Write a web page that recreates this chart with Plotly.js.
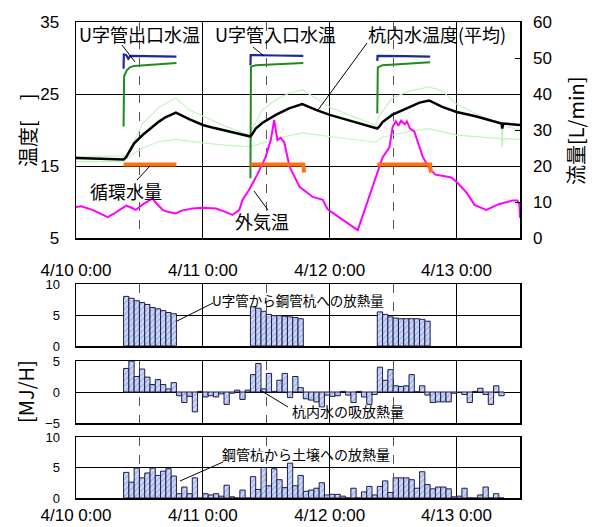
<!DOCTYPE html>
<html><head><meta charset="utf-8">
<script src="https://cdn.plot.ly/plotly-3.0.1.min.js"></script>
<style>html,body{margin:0;padding:0;background:#fff}#chart{width:597px;height:527px}</style>
</head><body><div id="chart"></div>
<script>
// ---- DATA (time in hours from 4/10 0:00) ----
const xTickText = ['4/10 0:00','4/11 0:00','4/12 0:00','4/13 0:00'];

// U字管入口水温 (blue), one list per circulation day
const inletHoursDay = [[9,9.05,9.5,9.9,10.3,13,16,19],[33,33.05,38,43],[57,57.05,62,67]];
const inletTempDay  = [[28.5,30.5,30.4,29.9,30.3,30.25,30.2,30.2],[29.0,30.4,30.35,30.3],[29.6,30.3,30.25,30.2]];
// U字管出口水温 (green)
const outletHoursDay = [[9,9.1,9.6,10.2,11,15,19],[33,33.1,34,38,43],[57,57.1,58,62,67]];
const outletTempDay  = [[20.5,27.5,28.3,28.7,28.9,29.1,29.3],[13.3,28.8,29.0,29.15,29.3],[22.3,28.7,29.0,29.2,29.4]];
// 杭内水温度(平均) (black)
const avgHours = [0,4,9,9.45,11,12.6,14,15.75,17,18.9,21.4,24,26,28.3,30,32.7,33,33.4,34,35.3,37.8,40.3,42.8,45.4,48,52.3,56.7,57,57.4,58,59.8,63,65,66.8,69.3,72,75.6,80.5,80.65,80.8,84];
const avgTemp  = [16.1,16.0,15.9,16.2,18.15,19.3,20.2,21.2,21.8,22.4,21.5,20.7,20.3,19.9,19.6,19.2,19.1,19.5,20.2,21.0,22.1,23.0,23.6,22.8,22.1,21.2,20.3,20.2,20.5,21.1,22.1,23.2,23.8,24.1,23.2,22.5,21.9,20.9,20.2,20.9,20.7];
// pale green (upper)
const upperHours = [0,9,9.5,11,12.6,15.75,18.9,21.4,24,28.3,32.7,33.4,35.3,37.8,40.3,42.8,45.4,48,52.3,56.7,57.3,59.8,63,66.8,69.3,72,75.6,80.5,80.6,80.8,84];
const upperTemp  = [16.3,16.3,16.4,18.4,20.9,23.2,24.4,22.8,21.9,20.5,19.3,20.2,22.8,24.2,25.1,25.6,24.4,23.2,21.9,20.7,21.9,24.4,25.4,26.0,25.4,23.6,22.3,20.8,18.0,20.6,20.0];
// pale green (lower)
const lowerHours = [0,9,9.45,12.6,15.75,18.9,24,28.3,32.7,34,37.8,42.8,48,56.7,57.9,63,66.8,72,80.5,80.6,80.8,84];
const lowerTemp  = [15.6,15.6,16.0,17.5,18.4,18.7,18.2,17.9,17.7,17.9,18.8,19.6,19.1,18.3,19.0,19.8,20.2,19.3,18.8,17.6,18.8,18.7];
// 外気温 (magenta)
const airHours = [0,1,3.1,6,7,8.8,9.5,10.5,11.3,12.5,13.5,14.5,15,16.4,17.5,18.9,20,22,24,26.5,28,29.6,30.9,31.5,32.75,34.3,35.9,36.85,37.5,38.1,38.7,39.4,40.4,42.3,44.8,46.7,47.6,49.9,51.8,53.3,54.2,56.1,58,59.3,59.9,60.5,61,61.5,62.2,62.6,63.2,64,65.6,66.9,68,69.5,71,72,73.9,75.4,77.6,80,82.6,83.5,83.9,84];
const airTemp  = [9.3,9.4,8.9,7.9,8.3,9.1,9.5,9.2,8.9,9.6,10.0,10.5,10.0,8.9,8.6,8.4,8.8,9.1,9.2,9.1,8.7,8.2,8.9,10.3,11.7,13.8,16.3,18.6,21.4,18.6,18.9,18.3,14.9,12.1,10.7,10.3,9.0,7.8,6.8,6.1,8.0,12.1,16.2,17.6,20.4,21.2,20.6,21.3,20.8,21.2,20.2,19.8,16.3,14.6,13.8,13.6,13.4,12.8,11.3,9.6,8.9,9.7,10.2,10.2,9.6,7.8];
// 循環水量 (orange, L/min)
const flowHoursDay = [[9,19],[33,43,43.15],[57,67,67.15]];
const flowRateDay  = [[20.4,20.4],[20.4,20.4,18.2],[20.4,20.4,18.2]];

// U字管から鋼管杭への放熱量 [MJ/H], hourly from 9:00 each day
const heatStartHours = [9,33,57];
const heatUtubeDay1 = [8.0,7.7,7.3,7.0,6.7,6.2,6.0,5.7,5.4,5.2];
const heatUtubeDay2 = [6.3,6.1,5.6,5.1,4.9,4.9,4.8,4.7,4.6,4.4];
const heatUtubeDay3 = [5.5,5.1,4.7,4.5,4.4,4.4,4.4,4.4,4.3,4.0];
// 杭内水の吸放熱量, hourly from 4/10 9:00
const pileStartHour = 9;
const pileWater = [
  3.8,5.0,2.5,3.7,2.4,1.2,2.0,1.2,0.5,1.5,-0.6,-1.7,-0.7,-3.2,0.1,
  -0.8,-0.6,-0.8,-0.3,-2.0,-0.2,0.3,-1.2,0.3,2.8,4.6,0.5,3.0,0.1,1.9,3.0,-0.9,2.5,0.7,-1.1,-1.3,-1.6,-2.4,-0.5,
  -0.7,-0.6,0.1,-0.5,-1.7,0.1,-0.8,-2.0,-0.4,4.0,1.9,3.6,1.0,0.9,1.0,2.8,0.05,1.0,-0.5,-1.7,-1.6,-1.6,-1.6,-0.2,
  -0.1,-0.4,-1.7,0.1,0.6,-0.4,-2.0,1.0,-0.6];
// 鋼管杭から土壌への放熱量, hourly from 4/10 9:00
const pileToSoil = [
  4.2,2.6,4.9,3.3,4.1,4.9,3.7,4.4,4.8,3.6,0.7,1.8,0.7,3.3,0,
  0.7,0.5,0.7,0.3,2.1,0.2,0,1.3,0,3.5,1.4,5.0,2.0,4.8,3.0,1.7,5.7,2.0,3.7,1.1,1.3,1.6,2.5,0.5,
  0.6,0.6,0.3,0,1.6,0,1.0,1.9,0.5,1.9,2.8,0.9,3.3,3.3,3.3,3.0,1.6,4.3,2.2,1.5,1.8,1.8,1.5,0.2,
  0.3,1.6,0,0,0.5,1.8,0,0.7,0];

// ---- HELPERS ----
const T0 = Date.UTC(2013,3,10,0,0,0);
const H = 3600000;
const t = h => T0 + h*H;
const W = 597, HT = 527, L = 76, R = 520, TOP = 22, BOT = 498;
const px = x => (x - L)/(R - L);
const py = y => (BOT - y)/(BOT - TOP);
const FONT = '"Liberation Sans", Arial, "Noto Sans CJK JP", sans-serif';
const JFONT = '"Noto Sans CJK JP", "Liberation Sans", sans-serif';

const utubeX = [], utubeY = [];
[heatUtubeDay1, heatUtubeDay2, heatUtubeDay3].forEach((arr, d) => {
  arr.forEach((v, i) => { utubeX.push(t(heatStartHours[d] + i + 0.5)); utubeY.push(v); });
});
const hourlyX = arr => arr.map((v, i) => t(pileStartHour + i + 0.5));

const barStyle = {
  color: '#c6d2f6',
  line: {color: '#1c1c4a', width: 1},
  pattern: {shape: '/', bgcolor: '#cdd8f8', fgcolor: '#93a6dc', size: 4, solidity: 0.25}
};

const lineTrace = (hours, vals, color, width, yaxis) => ({
  x: hours.map(t), y: vals, mode: 'lines', line: {color: color, width: width},
  xaxis: 'x', yaxis: yaxis || 'y'
});

const traces = [
  lineTrace(upperHours, upperTemp, '#c4f5bf', 1.2),
  lineTrace(lowerHours, lowerTemp, '#c4f5bf', 1.2),
  lineTrace(airHours, airTemp, '#ff00ff', 2)
];
outletHoursDay.forEach((h, i) => traces.push(lineTrace(h, outletTempDay[i], '#1e8c1e', 2)));
inletHoursDay.forEach((h, i) => traces.push(lineTrace(h, inletTempDay[i], '#1a2a9c', 2.2)));
traces.push(lineTrace(avgHours, avgTemp, '#000', 2.5));
flowHoursDay.forEach((h, i) => traces.push(lineTrace(h, flowRateDay[i], '#ff7010', 4, 'y2')));
traces.push(
  {type: 'bar', x: utubeX, y: utubeY, width: H, marker: barStyle, xaxis: 'x2', yaxis: 'y3'},
  {type: 'bar', x: hourlyX(pileWater), y: pileWater, width: H, marker: barStyle, xaxis: 'x3', yaxis: 'y4'},
  {type: 'bar', x: hourlyX(pileToSoil), y: pileToSoil, width: H, marker: barStyle, xaxis: 'x4', yaxis: 'y5'}
);

function xAxis(anchor, showLabels, standoff) {
  const ax = {
    type: 'date', anchor: anchor, range: [t(0), t(84)],
    tickmode: 'array', tickvals: [0,24,48,72].map(t), ticktext: xTickText,
    showticklabels: showLabels, ticks: '', ticklabelstandoff: standoff,
    tickfont: {family: FONT, size: 17, color: '#000'},
    showgrid: true, gridcolor: '#000', gridwidth: 1,
    minor: {tick0: t(12), dtick: 24*H, showgrid: true, gridcolor: '#555', griddash: 'dash', gridwidth: 1, ticks: ''},
    showline: true, mirror: true, linecolor: '#000', linewidth: 1.5, zeroline: false
  };
  if (anchor !== 'y') ax.matches = 'x';
  return ax;
}
function yAxis(domain, range, vals, anchor, size) {
  return {
    domain: domain, range: range, anchor: anchor, tickmode: 'array', tickvals: vals,
    ticks: '', ticklabelstandoff: 12, tickfont: {family: FONT, size: size, color: '#000'},
    showgrid: true, gridcolor: '#000', gridwidth: 1, zeroline: false,
    showline: true, mirror: true, linecolor: '#000', linewidth: 1.5
  };
}

const annFont = (s) => ({family: JFONT, size: s, color: '#000'});
const textAnn = (txt, x, y, s, angle) => ({
  text: txt, xref: 'paper', yref: 'paper', x: px(x), y: py(y), xanchor: 'center', yanchor: 'middle',
  showarrow: false, font: annFont(s), textangle: angle || 0
});
const lineShape = (x0, y0, x1, y1) => ({
  type: 'line', xref: 'paper', yref: 'paper', x0: px(x0), y0: py(y0), x1: px(x1), y1: py(y1),
  line: {color: '#000', width: 1}
});

const layout = {
  width: W, height: HT, autosize: false,
  margin: {l: L, r: W - R, t: TOP, b: HT - BOT, pad: 0},
  paper_bgcolor: '#fff', plot_bgcolor: '#fff',
  showlegend: false, bargap: 0,
  font: {family: FONT, color: '#000'},
  xaxis: xAxis('y', true, 16),
  xaxis2: xAxis('y3', false, 0),
  xaxis3: xAxis('y4', false, 0),
  xaxis4: xAxis('y5', true, 1),
  yaxis: yAxis([py(238), 1], [5, 35], [5, 15, 25, 35], 'x', 17),
  yaxis2: {overlaying: 'y', side: 'right', anchor: 'x', range: [0, 60], tickmode: 'array', tickvals: [0,10,20,30,40,50,60],
           ticks: 'inside', ticklen: 5, tickcolor: '#000', ticklabelstandoff: 12,
           tickfont: {family: FONT, size: 17, color: '#000'}, showgrid: false, zeroline: false, showline: false},
  yaxis3: yAxis([py(346), py(284)], [0, 10], [0, 5, 10], 'x2', 13),
  yaxis4: yAxis([py(423), py(361)], [-5, 5], [-5, 0, 5], 'x3', 13),
  yaxis5: yAxis([0, py(437)], [0, 10], [0, 5, 10], 'x4', 13),
  annotations: [
    textAnn('U字管出口水温', 139, 34, 18),
    textAnn('U字管入口水温', 275, 34, 18),
    textAnn('杭内水温度(平均)', 437, 34, 18),
    textAnn('循環水量', 126, 191, 18),
    textAnn('外気温', 262, 221, 18),
    textAnn('U字管から鋼管杭への放熱量', 298, 300, 13.5),
    textAnn('杭内水の吸放熱量', 348, 411, 14),
    textAnn('鋼管杭から土壌への放熱量', 306, 454, 14),
    textAnn('温度[　]', 27, 130, 20, -90),
    textAnn('流量[L/min]', 575, 131, 20, -90),
    textAnn('[MJ/H]', 25, 392, 20, -90)
  ],
  shapes: [
    lineShape(122, 45, 135, 62),
    lineShape(253, 47, 264, 56),
    lineShape(367, 43, 318, 110),
    lineShape(137, 180, 150, 166),
    lineShape(268, 210, 254, 191),
    lineShape(213, 303, 177, 321),
    lineShape(288, 407, 260, 390),
    lineShape(223, 462, 180, 481)
  ]
};

Plotly.newPlot('chart', traces, layout, {staticPlot: true, displayModeBar: false});
</script>
</body></html>
